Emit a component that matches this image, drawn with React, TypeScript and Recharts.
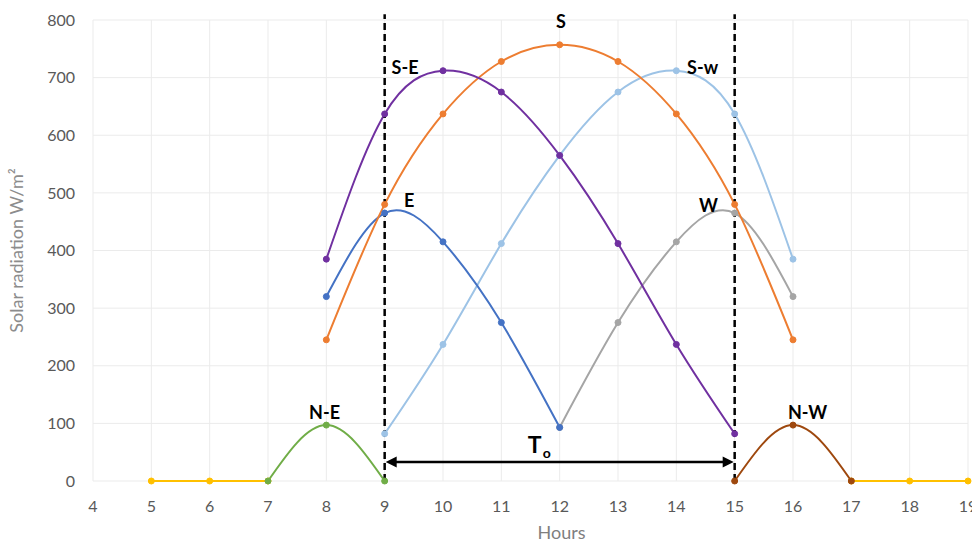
import React from "react";
import {
  LineChart,
  Line,
  XAxis,
  YAxis,
  CartesianGrid,
  ReferenceLine,
  ReferenceDot,
} from "recharts";

// hours 5..19, null where a facade gets no sun
const hours = [5, 6, 7, 8, 9, 10, 11, 12, 13, 14, 15, 16, 17, 18, 19];
const night = [0, 0, 0, null, null, null, null, null, null, null, null, null, 0, 0, 0];
const northEast = [null, null, 0, 97, 0, null, null, null, null, null, null, null, null, null, null];
const northWest = [null, null, null, null, null, null, null, null, null, null, 0, 97, 0, null, null];
const east = [null, null, null, 320, 465, 415, 275, 93, null, null, null, null, null, null, null];
const west = [null, null, null, null, null, null, null, 93, 275, 415, 465, 320, null, null, null];
const southEast = [null, null, null, 385, 637, 712, 675, 565, 412, 237, 82, null, null, null, null];
const southWest = [null, null, null, null, 82, 237, 412, 565, 675, 712, 637, 385, null, null, null];
const south = [null, null, null, 245, 480, 637, 728, 757, 728, 637, 480, 245, null, null, null];

const xTicks = [4, 5, 6, 7, 8, 9, 10, 11, 12, 13, 14, 15, 16, 17, 18, 19];
const yTicks = [0, 100, 200, 300, 400, 500, 600, 700, 800];

// working period (T0) bounds
const workStart = 9;
const workEnd = 15;
const arrowLevel = 33;

const labels = [
  { text: "S-E", x: 9.35, y: 717 },
  { text: "S", x: 12.02, y: 797 },
  { text: "S-w", x: 14.45, y: 717 },
  { text: "E", x: 9.42, y: 486 },
  { text: "W", x: 14.55, y: 478 },
  { text: "N-E", x: 7.97, y: 118 },
  { text: "N-W", x: 16.25, y: 118 },
];

const data = hours.map((h, i) => ({
  hour: h,
  night: night[i],
  northEast: northEast[i],
  northWest: northWest[i],
  east: east[i],
  west: west[i],
  southEast: southEast[i],
  southWest: southWest[i],
  south: south[i],
}));

const series = [
  { key: "night", color: "#FFC000", type: "linear" },
  { key: "northEast", color: "#70AD47", type: "natural" },
  { key: "northWest", color: "#9E480E", type: "natural" },
  { key: "west", color: "#A5A5A5", type: "natural" },
  { key: "southWest", color: "#9DC3E6", type: "natural" },
  { key: "east", color: "#4472C4", type: "natural" },
  { key: "south", color: "#ED7D31", type: "natural" },
  { key: "southEast", color: "#7030A0", type: "natural" },
];

const DoubleArrow = (props: any) => {
  const { x1, y1, x2, y2 } = props;
  const len = 12;
  const half = 5.5;
  return (
    <g>
      <line x1={x1 + len - 2} y1={y1} x2={x2 - len + 2} y2={y2} stroke="#000" strokeWidth={2.5} />
      <polygon points={`${x1 + 1},${y1} ${x1 + len},${y1 - half} ${x1 + len},${y1 + half}`} fill="#000" />
      <polygon points={`${x2 - 1},${y2} ${x2 - len},${y2 - half} ${x2 - len},${y2 + half}`} fill="#000" />
    </g>
  );
};

const TLabel = (props: any) => {
  const { viewBox } = props;
  return (
    <text x={viewBox.x} y={viewBox.y} fontSize={23} fontWeight={700} fill="#000" textAnchor="middle">
      T
      <tspan fontSize={14} dx={1} dy={5}>
        o
      </tspan>
    </text>
  );
};

export default function App() {
  return (
    <div style={{ position: "absolute", left: 0, top: 0, width: 972, height: 543, background: "#fff" }}>
      <LineChart
        width={972}
        height={543}
        data={data}
        margin={{ top: 20, right: 4, left: 0, bottom: 0 }}
        style={{ fontFamily: "Lato, 'Open Sans', sans-serif" }}
      >
        <CartesianGrid stroke="#ebebeb" strokeWidth={1} />
        <XAxis
          dataKey="hour"
          type="number"
          domain={[4, 19]}
          ticks={xTicks}
          interval={0}
          height={62}
          axisLine={false}
          tickLine={false}
          tickSize={0}
          tickMargin={20}
          tick={{ fill: "#595959", fontSize: 16 }}
          label={{ value: "Hours", position: "insideBottom", offset: 4, dx: 31, fill: "#7f7f7f", fontSize: 18 }}
        />
        <YAxis
          type="number"
          domain={[0, 800]}
          ticks={yTicks}
          width={93}
          axisLine={false}
          tickLine={false}
          tickSize={0}
          tickMargin={18}
          tick={{ fill: "#595959", fontSize: 16 }}
          label={{
            value: "Solar radiation W/m²",
            angle: -90,
            position: "insideLeft",
            offset: 17,
            fill: "#8c8c8c",
            fontSize: 18,
            style: { textAnchor: "middle" },
          }}
        />
        {series.map((s) => (
          <Line
            key={s.key}
            dataKey={s.key}
            type={s.type as any}
            stroke={s.color}
            strokeWidth={2}
            dot={{ r: 3, fill: s.color, stroke: s.color, strokeWidth: 1 }}
            activeDot={false}
            connectNulls={false}
            isAnimationActive={false}
          />
        ))}
        <ReferenceLine
          segment={[{ x: workStart, y: 0 }, { x: workStart, y: 810 }]}
          stroke="#000"
          strokeWidth={2.5}
          strokeDasharray="7 4"
          ifOverflow="visible"
        />
        <ReferenceLine
          segment={[{ x: workEnd, y: 0 }, { x: workEnd, y: 810 }]}
          stroke="#000"
          strokeWidth={2.5}
          strokeDasharray="7 4"
          ifOverflow="visible"
        />
        <ReferenceLine
          segment={[{ x: workStart, y: arrowLevel }, { x: workEnd, y: arrowLevel }]}
          shape={DoubleArrow}
          ifOverflow="visible"
        />
        {labels.map((l) => (
          <ReferenceDot
            key={l.text}
            x={l.x}
            y={l.y}
            r={0}
            fill="none"
            stroke="none"
            ifOverflow="visible"
            label={{ value: l.text, position: "center", fill: "#000", fontSize: 18, fontWeight: 700 }}
          />
        ))}
        <ReferenceDot
          x={11.65}
          y={48}
          r={0}
          fill="none"
          stroke="none"
          ifOverflow="visible"
          label={{ position: "center", content: TLabel }}
        />
      </LineChart>
    </div>
  );
}
